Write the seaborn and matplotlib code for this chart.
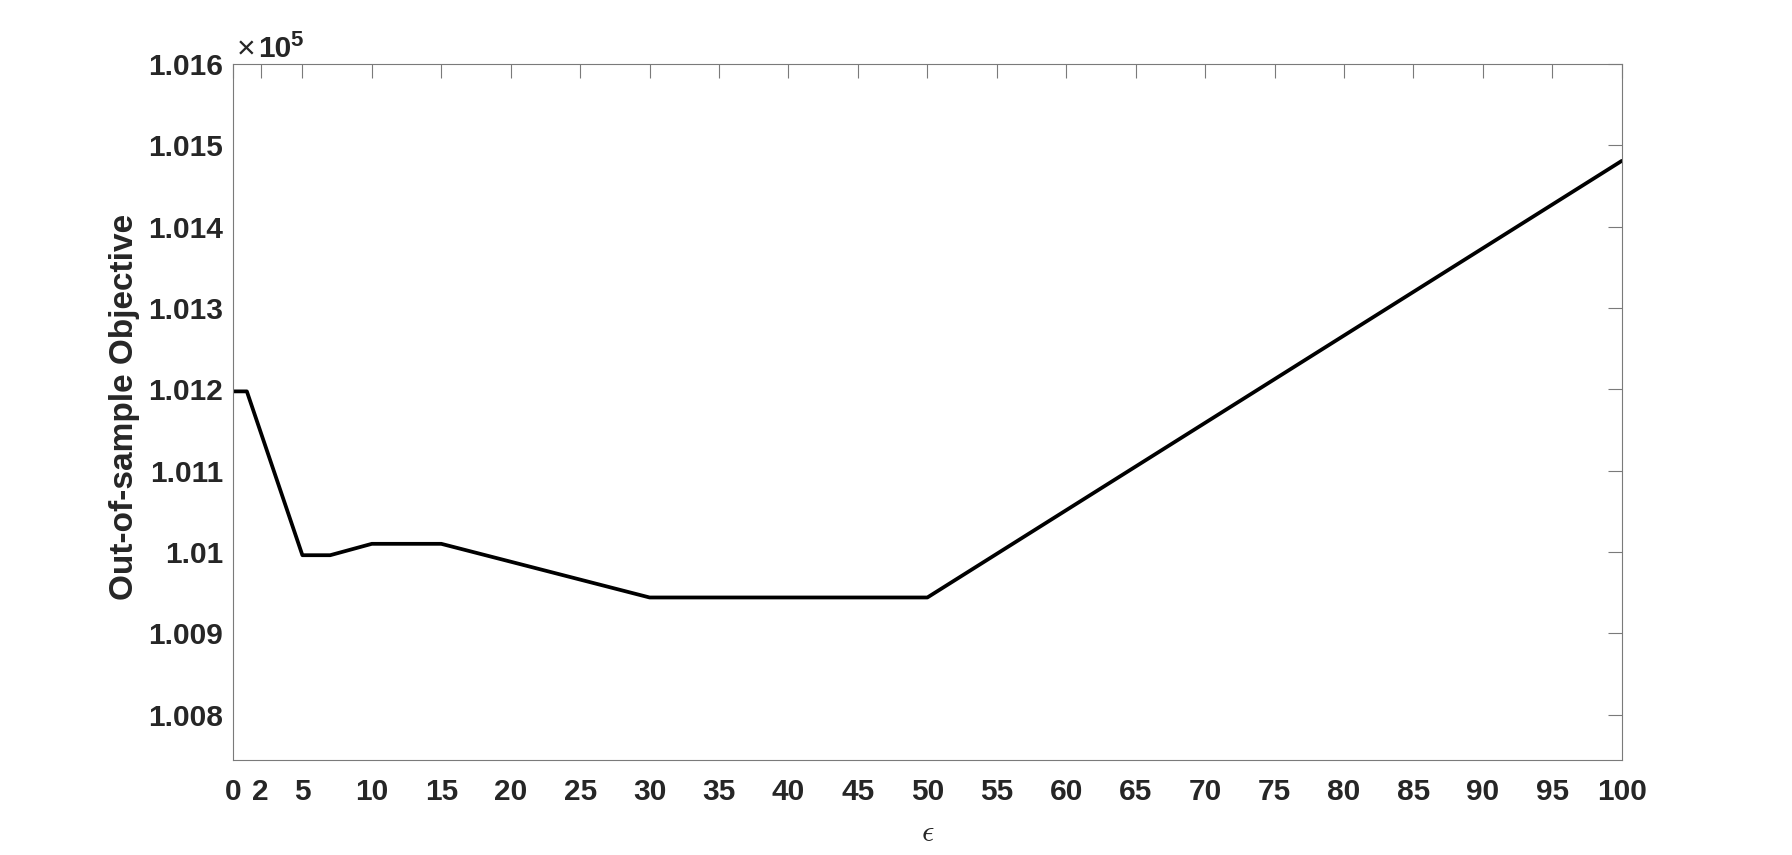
import seaborn as sns
import matplotlib
matplotlib.use("Agg")
import matplotlib.pyplot as plt
from matplotlib.ticker import FuncFormatter

# epsilon values and out-of-sample objective
eps = [0, 1, 5, 7, 10, 15, 30, 50, 100]
objective = [101197.5, 101197.5, 100996, 100996, 101010, 101010, 100944, 100944, 101481]

x_ticks = [0, 2, 5, 10, 15, 20, 25, 30, 35, 40, 45, 50, 55, 60, 65, 70, 75, 80, 85, 90, 95, 100]
y_ticks = [100800, 100900, 101000, 101100, 101200, 101300, 101400, 101500, 101600]

sns.set_style("white")
plt.rcParams['font.family'] = ['Liberation Sans', 'DejaVu Sans']

txt = '#262626'
axcol = '#7a7a7a'

fig = plt.figure(figsize=(17.92, 8.55), dpi=100)
ax = fig.add_axes([0.13, 0.111, 0.775, 0.814])

sns.lineplot(x=eps, y=objective, color='black', linewidth=2.7, ax=ax)

ax.set_xlim(0, 100)
ax.set_ylim(100744, 101600)
ax.set_xticks(x_ticks)
ax.set_yticks(y_ticks)
ax.yaxis.set_major_formatter(FuncFormatter(lambda v, p: f"{v / 1e5:.3f}".rstrip('0')))

for s in ax.spines.values():
    s.set_visible(True)
    s.set_color(axcol)
    s.set_linewidth(0.8)

ax.tick_params(axis='both', direction='in', length=10, width=0.8, color=axcol,
               top=True, right=True, labelcolor=txt, labelsize=21.5)
ax.tick_params(axis='x', pad=13)
ax.tick_params(axis='y', pad=7)
for lab in ax.get_xticklabels() + ax.get_yticklabels():
    lab.set_fontweight('bold')

ax.set_ylabel('Out-of-sample Objective', fontsize=24, fontweight='bold', color=txt)
ax.yaxis.set_label_coords(-0.0672, 0.507)
ax.set_xlabel(r'$\epsilon$', fontsize=22, color=txt, math_fontfamily='cm')
ax.xaxis.set_label_coords(0.5, -0.083)

# exponent label, MATLAB style
ax.text(0.0025, 1.008, '\u00d7', transform=ax.transAxes, fontsize=23,
        color=txt, ha='left', va='baseline')
ax.text(0.0178, 1.0098, '10', transform=ax.transAxes, fontsize=21.5,
        fontweight='bold', color=txt, ha='left', va='baseline')
ax.text(0.0415, 1.026, '5', transform=ax.transAxes, fontsize=16,
        fontweight='bold', color=txt, ha='left', va='baseline')

fig.savefig('out.png', dpi=100)
